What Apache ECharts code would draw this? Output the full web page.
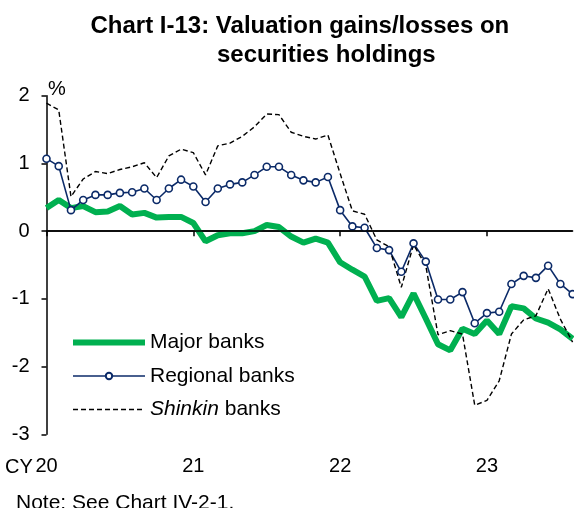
<!DOCTYPE html>
<html>
<head>
<meta charset="utf-8">
<script src="https://cdn.jsdelivr.net/npm/echarts@6/dist/echarts.min.js"></script>
<style>
  html, body { margin: 0; padding: 0; background: #fff; }
  #chart { width: 574px; height: 508px; }
</style>
</head>
<body>
<div id="chart"></div>
<script>
  // monthly, Jan 2020 - Aug 2023
  var months = [];
  for (var y = 2020; y <= 2023; y++) {
    for (var m = 1; m <= 12; m++) {
      if (months.length < 44) months.push(y + '-' + (m < 10 ? '0' + m : m));
    }
  }
  var yearLabels = ['20', '21', '22', '23'];

  var majorBanks = [0.34, 0.46, 0.34, 0.37, 0.28, 0.29, 0.37, 0.245, 0.27, 0.20, 0.21, 0.21,
    0.12, -0.15, -0.06, -0.03, -0.03, 0.00, 0.09, 0.06, -0.08, -0.17, -0.11, -0.17,
    -0.46, -0.57, -0.67, -1.03, -0.99, -1.27, -0.92, -1.29, -1.67, -1.76, -1.44, -1.52,
    -1.32, -1.52, -1.11, -1.14, -1.29, -1.35, -1.45, -1.59];

  var regionalBanks = [1.07, 0.96, 0.31, 0.46, 0.535, 0.535, 0.565, 0.575, 0.63, 0.46, 0.63, 0.76,
    0.66, 0.43, 0.63, 0.69, 0.72, 0.83, 0.95, 0.95, 0.83, 0.75, 0.72, 0.80,
    0.31, 0.07, 0.05, -0.25, -0.28, -0.60, -0.18, -0.45, -1.01, -1.01, -0.90, -1.36,
    -1.21, -1.19, -0.78, -0.66, -0.69, -0.51, -0.78, -0.93];

  var shinkinBanks = [1.89, 1.79, 0.51, 0.77, 0.88, 0.85, 0.91, 0.95, 1.01, 0.79, 1.11, 1.21,
    1.16, 0.83, 1.26, 1.30, 1.40, 1.54, 1.73, 1.72, 1.46, 1.40, 1.36, 1.42,
    0.85, 0.30, 0.25, -0.13, -0.23, -0.83, -0.20, -0.51, -1.53, -1.47, -1.52, -2.57,
    -2.50, -2.21, -1.52, -1.31, -1.25, -0.85, -1.30, -1.64];

  var font = 'Liberation Sans, Arial, sans-serif';
  var navy = '#0B2A68';

  var option = {
    backgroundColor: '#fff',
    animation: false,
    textStyle: { fontFamily: font, color: '#000' },
    grid: { left: 46.5, right: 1.4, top: 95.7, height: 338.6 },
    graphic: [
      { type: 'text', x: 90.5, y: 26.6, style: { text: 'Chart I-13: Valuation gains/losses on', font: 'bold 24px ' + font, fill: '#000', verticalAlign: 'middle' } },
      { type: 'text', x: 217, y: 55.6, style: { text: 'securities holdings', font: 'bold 24px ' + font, fill: '#000', verticalAlign: 'middle' } },
      { type: 'text', x: 48, y: 89.6, style: { text: '%', font: '20px ' + font, fill: '#000', verticalAlign: 'middle' } },
      { type: 'text', x: 5, y: 467.5, style: { text: 'CY', font: '20px ' + font, fill: '#000', verticalAlign: 'middle' } },
      { type: 'text', x: 16, y: 502.9, style: { text: 'Note: See Chart IV-2-1.', font: '21px ' + font, fill: '#000', verticalAlign: 'middle' } }
    ],
    legend: {
      orient: 'vertical',
      left: 70,
      top: 332,
      padding: 0,
      itemWidth: 72,
      itemHeight: 8,
      itemGap: 12.5,
      data: [
        { name: 'Major banks', itemStyle: { opacity: 0 }, lineStyle: { width: 6 } },
        { name: 'Regional banks', lineStyle: { width: 1.6 } },
        { name: 'Shinkin banks', itemStyle: { opacity: 0 }, lineStyle: { width: 1.4 } }
      ],
      formatter: function (name) {
        return name === 'Shinkin banks' ? '{it|Shinkin} banks' : name;
      },
      textStyle: {
        fontSize: 21, color: '#000', fontFamily: font,
        rich: { it: { fontStyle: 'italic', fontSize: 21, fontFamily: font, color: '#000' } }
      }
    },
    xAxis: {
      type: 'category',
      data: months,
      boundaryGap: false,
      axisLine: { lineStyle: { color: '#000', width: 1.5 } },
      axisTick: {
        length: 5,
        lineStyle: { color: '#000', width: 1.5 },
        interval: function (i) { return i % 12 === 0; }
      },
      axisLabel: {
        interval: function (i) { return i % 12 === 0; },
        formatter: function (v, i) { return yearLabels[i / 12]; },
        fontSize: 20, color: '#000', margin: 22
      },
      splitLine: { show: false }
    },
    yAxis: {
      type: 'value',
      min: -3, max: 2, interval: 1,
      axisLine: { show: true, lineStyle: { color: '#000', width: 1.5 } },
      axisTick: { show: true, length: 5, lineStyle: { color: '#000', width: 1.5 } },
      axisLabel: { fontSize: 20, color: '#000', margin: 17 },
      splitLine: { show: false }
    },
    series: [
      {
        name: 'Major banks',
        type: 'line',
        data: majorBanks,
        symbol: 'none',
        lineStyle: { color: '#00B050', width: 6 },
        itemStyle: { color: '#00B050' },
        markLine: {
          silent: true,
          symbol: 'none',
          label: { show: false },
          lineStyle: { color: '#000', width: 1.5, type: 'solid' },
          data: [{ yAxis: 0 }]
        }
      },
      {
        name: 'Regional banks',
        type: 'line',
        data: regionalBanks,
        symbol: 'circle',
        symbolSize: 7,
        showAllSymbol: true,
        lineStyle: { color: navy, width: 1.6 },
        itemStyle: { color: '#fff', borderColor: navy, borderWidth: 1.6 }
      },
      {
        name: 'Shinkin banks',
        type: 'line',
        data: shinkinBanks,
        symbol: 'none',
        lineStyle: { color: '#000', width: 1.4, type: [5, 3] },
        itemStyle: { color: '#000' }
      }
    ]
  };

  var myChart = echarts.init(document.getElementById('chart'));
  myChart.setOption(option);
</script>
</body>
</html>
